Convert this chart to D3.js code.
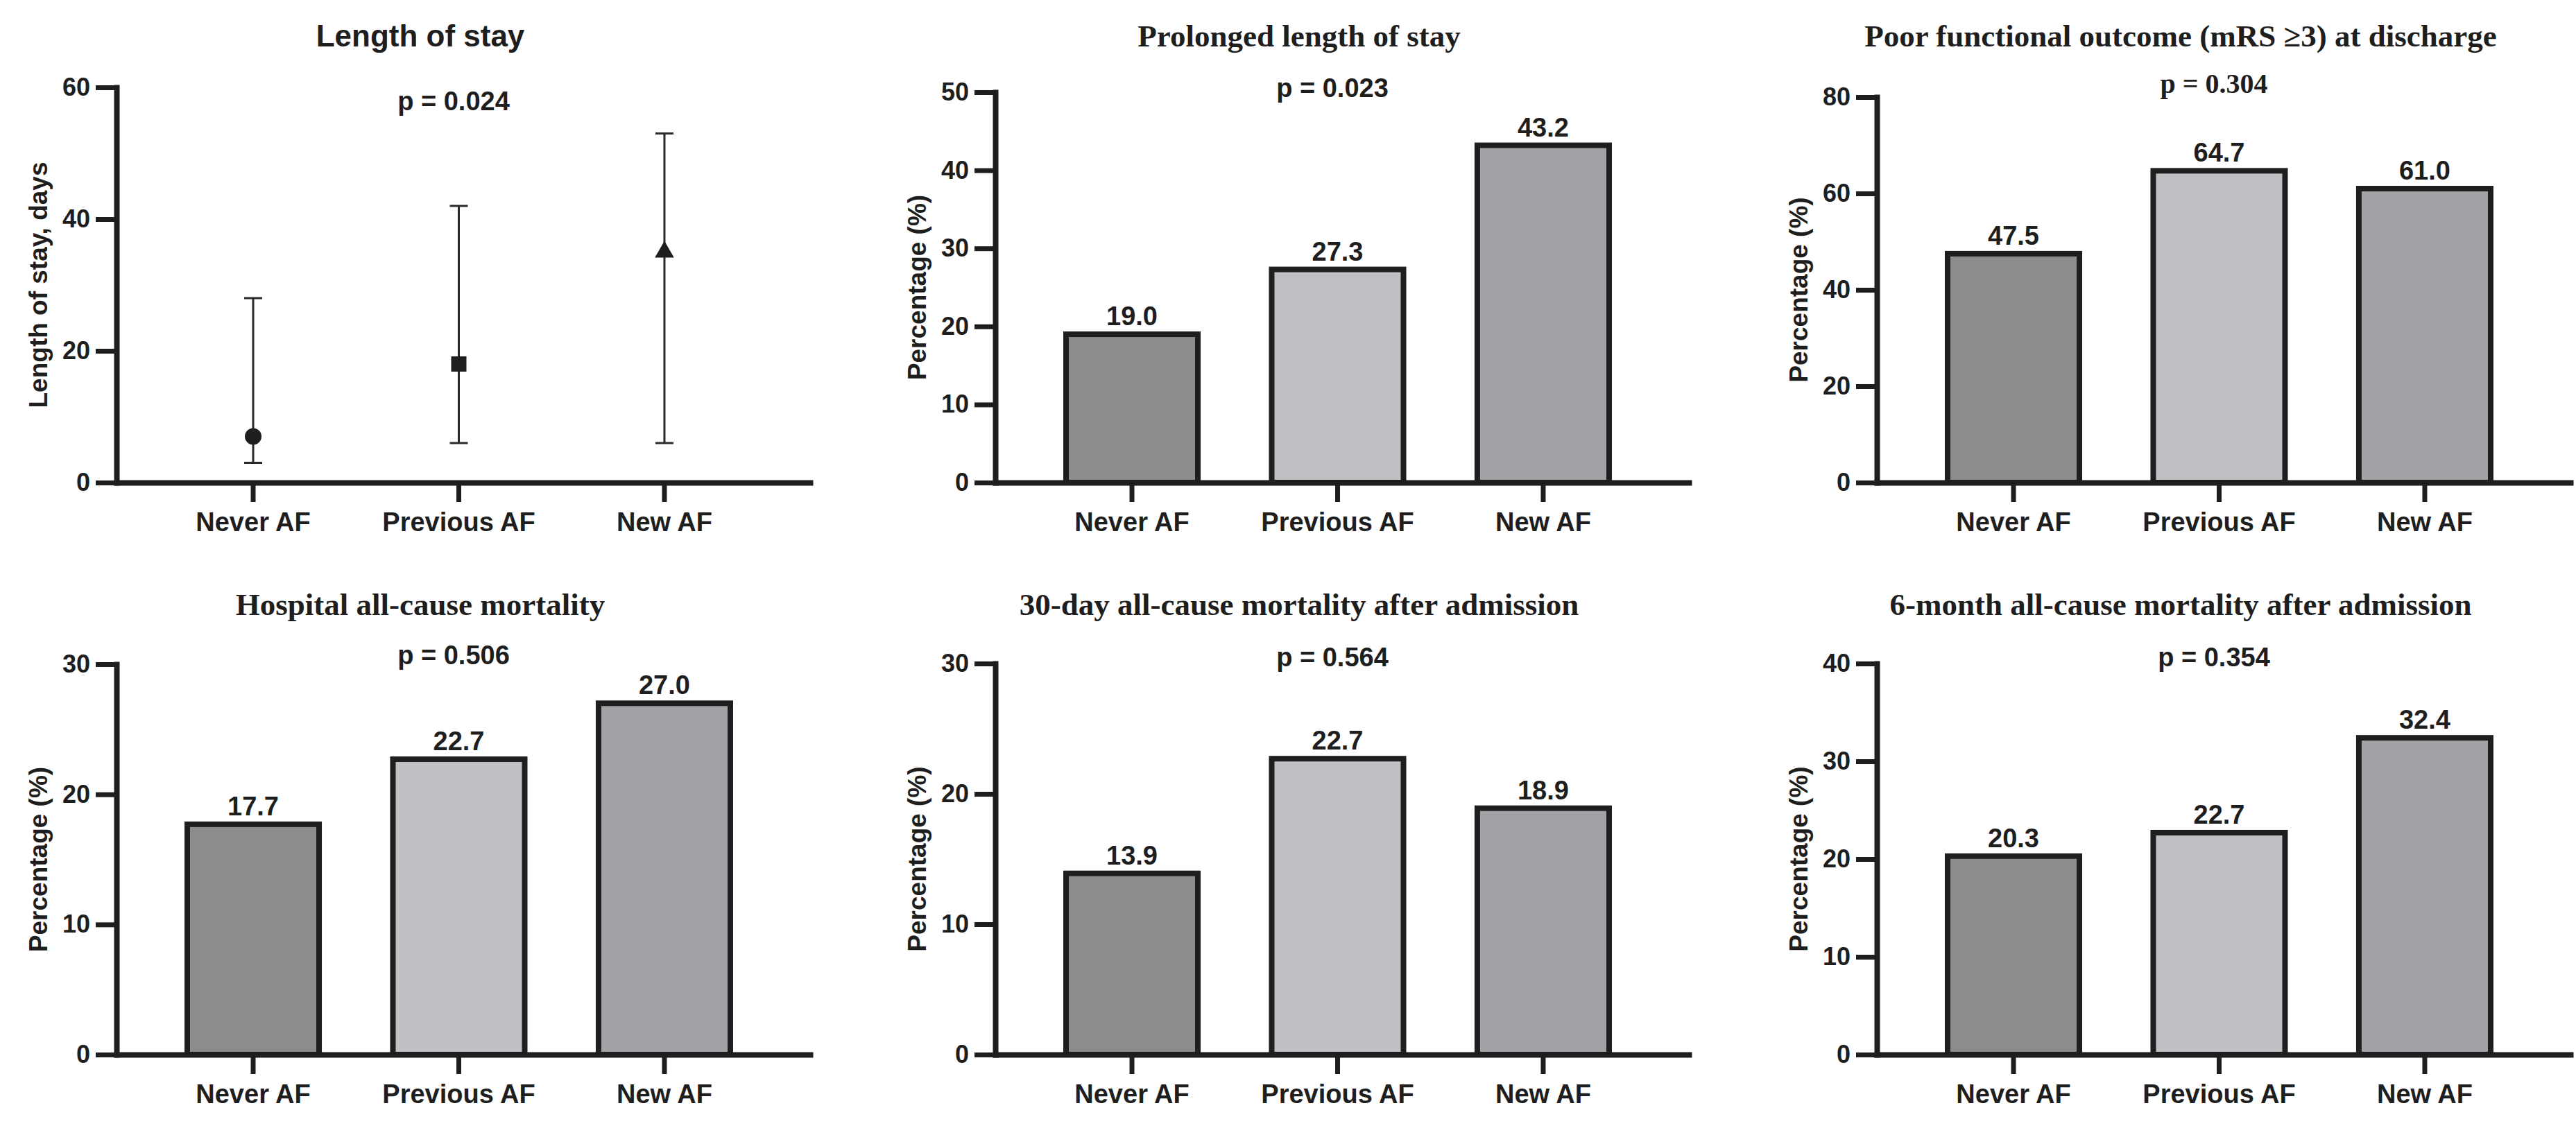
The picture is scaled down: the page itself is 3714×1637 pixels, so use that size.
<!DOCTYPE html>
<html lang="en">
  <head>
    <meta charset="UTF-8" />
    <title>AF outcomes</title>
    <style type="text/css">
      body { margin: 0; background: #ffffff; }
      .sans { font-family: 'Liberation Sans', Arial, Helvetica, sans-serif; font-weight: bold; }
      .serif { font-family: 'Liberation Serif', 'Times New Roman', Times, serif; font-weight: bold; }
    </style>
  </head>
  <script src="https://d3js.org/d3.v7.min.js"></script>
  <body>
    <div class="d3Chart"></div>
  </body>
  <script type="text/javascript">
    // data
    const categories = ['Never AF', 'Previous AF', 'New AF']
    const losMedian = [7, 18, 35]
    const losLow = [3, 6, 6]
    const losHigh = [28, 42, 53]
    const prolongedStay = [19.0, 27.3, 43.2]
    const poorOutcome = [47.5, 64.7, 61.0]
    const hospitalMortality = [17.7, 22.7, 27.0]
    const mortality30d = [13.9, 22.7, 18.9]
    const mortality6m = [20.3, 22.7, 32.4]
    const titles = [
      'Length of stay',
      'Prolonged length of stay',
      'Poor functional outcome (mRS \u22653) at discharge',
      'Hospital all-cause mortality',
      '30-day all-cause mortality after admission',
      '6-month all-cause mortality after admission'
    ]
    const pValues = ['p = 0.024', 'p = 0.023', 'p = 0.304', 'p = 0.506', 'p = 0.564', 'p = 0.354']
    const yMax = [60, 50, 80, 30, 30, 40]
    const yStep = [20, 10, 20, 10, 10, 10]
    const yLabels = ['Length of stay, days', 'Percentage (%)', 'Percentage (%)', 'Percentage (%)', 'Percentage (%)', 'Percentage (%)']
    const barValues = [null, prolongedStay, poorOutcome, hospitalMortality, mortality30d, mortality6m]

    // layout
    const width = 3714
    const height = 1637
    const colX = [168, 1435, 2706]
    const rowY0 = [696, 1521]
    const yTop = [126, 133, 140, 958, 957, 957]
    const titleY = [67, 67, 67, 887, 887, 887]
    const pY = [159, 140, 134, 958, 961, 961]
    const titleSerif = [false, true, true, true, true, true]
    const pSerif = [false, false, true, false, false, false]
    const barColors = ['#8c8c8c', '#c0c0c4', '#a3a2a6']
    const ink = '#1e1e1e'

    const svg = d3
      .select('.d3Chart')
      .append('svg')
      .attr('width', width)
      .attr('height', height)
      .style('background-color', '#ffffff')

    // ~296px per category, bars 190 wide, first centre ~197px right of the y axis
    const x = d3
      .scaleBand()
      .domain(categories)
      .range([0, 1000])
      .paddingInner(0.359)
      .paddingOuter(0.366)
      .align(0.47)
    const cx = (c) => x(c) + x.bandwidth() / 2

    titles.forEach((title, i) => {
      const y0 = rowY0[Math.floor(i / 3)]
      const g = svg.append('g').attr('transform', `translate(${colX[i % 3]}, 0)`)
      const y = d3.scaleLinear().domain([0, yMax[i]]).range([y0, yTop[i]])

      // title + p value
      g.append('text')
        .attr('class', titleSerif[i] ? 'serif' : 'sans')
        .attr('x', 438)
        .attr('y', titleY[i])
        .attr('text-anchor', 'middle')
        .attr('fill', ink)
        .style('font-size', titleSerif[i] ? '45px' : '44px')
        .text(title)

      g.append('text')
        .attr('class', pSerif[i] ? 'serif' : 'sans')
        .attr('x', 486)
        .attr('y', pY[i])
        .attr('text-anchor', 'middle')
        .attr('fill', ink)
        .style('font-size', pSerif[i] ? '40px' : '38px')
        .text(pValues[i])

      // y label
      g.append('text')
        .attr('class', 'sans')
        .attr('transform', `translate(-100, ${(y0 + yTop[i]) / 2}) rotate(-90)`)
        .attr('text-anchor', 'middle')
        .attr('fill', ink)
        .style('font-size', '37px')
        .text(yLabels[i])

      if (barValues[i]) {
        const vals = barValues[i]
        g.append('g')
          .selectAll()
          .data(categories)
          .join('rect')
          .attr('x', (d) => x(d))
          .attr('y', (d, k) => y(vals[k]))
          .attr('width', x.bandwidth())
          .attr('height', (d, k) => y0 - y(vals[k]))
          .attr('fill', (d, k) => barColors[k])
          .attr('stroke', ink)
          .attr('stroke-width', 8)

        g.append('g')
          .selectAll()
          .data(categories)
          .join('text')
          .attr('class', 'sans')
          .attr('x', (d) => cx(d))
          .attr('y', (d, k) => y(vals[k]) - 13)
          .attr('text-anchor', 'middle')
          .attr('fill', ink)
          .style('font-size', '38px')
          .text((d, k) => vals[k].toFixed(1))
      } else {
        // median with range
        const ebar = g.append('g').attr('stroke', '#2a2a2a').attr('stroke-width', 3)
        ebar
          .selectAll('.stem')
          .data(categories)
          .join('line')
          .attr('x1', (d) => cx(d))
          .attr('x2', (d) => cx(d))
          .attr('y1', (d, k) => y(losLow[k]))
          .attr('y2', (d, k) => y(losHigh[k]))
        ebar
          .selectAll('.capHi')
          .data(categories)
          .join('line')
          .attr('x1', (d) => cx(d) - 13)
          .attr('x2', (d) => cx(d) + 13)
          .attr('y1', (d, k) => y(losHigh[k]))
          .attr('y2', (d, k) => y(losHigh[k]))
        ebar
          .selectAll('.capLo')
          .data(categories)
          .join('line')
          .attr('x1', (d) => cx(d) - 13)
          .attr('x2', (d) => cx(d) + 13)
          .attr('y1', (d, k) => y(losLow[k]))
          .attr('y2', (d, k) => y(losLow[k]))

        const shapes = [d3.symbolCircle, d3.symbolSquare, d3.symbolTriangle]
        const sizes = [452, 484, 330]
        g.append('g')
          .selectAll()
          .data(categories)
          .join('path')
          .attr('transform', (d, k) => `translate(${cx(d)}, ${y(losMedian[k])})`)
          .attr('d', (d, k) => d3.symbol().type(shapes[k]).size(sizes[k])())
          .attr('fill', ink)
      }

      // axes
      const yAxis = g
        .append('g')
        .call(
          d3
            .axisLeft(y)
            .tickValues(d3.range(0, yMax[i] + 1, yStep[i]))
            .tickSize(30)
            .tickPadding(8)
            .tickSizeOuter(0)
        )
      const xAxis = g
        .append('g')
        .attr('transform', `translate(0, ${y0})`)
        .call(d3.axisBottom(x).tickSize(28).tickPadding(15).tickSizeOuter(0))

      ;[yAxis, xAxis].forEach((ax) => {
        ax.attr('font-size', null).attr('font-family', null)
        ax.select('.domain').attr('stroke', ink).attr('stroke-width', 8).attr('stroke-linecap', 'square')
        ax.selectAll('.tick line').attr('stroke', ink).attr('stroke-width', 7)
        ax.selectAll('.tick text').attr('class', 'sans').attr('fill', ink)
      })
      yAxis.selectAll('.tick text').style('font-size', '36px')
      xAxis.selectAll('.tick text').style('font-size', '38px')
    })
  </script>
</html>
